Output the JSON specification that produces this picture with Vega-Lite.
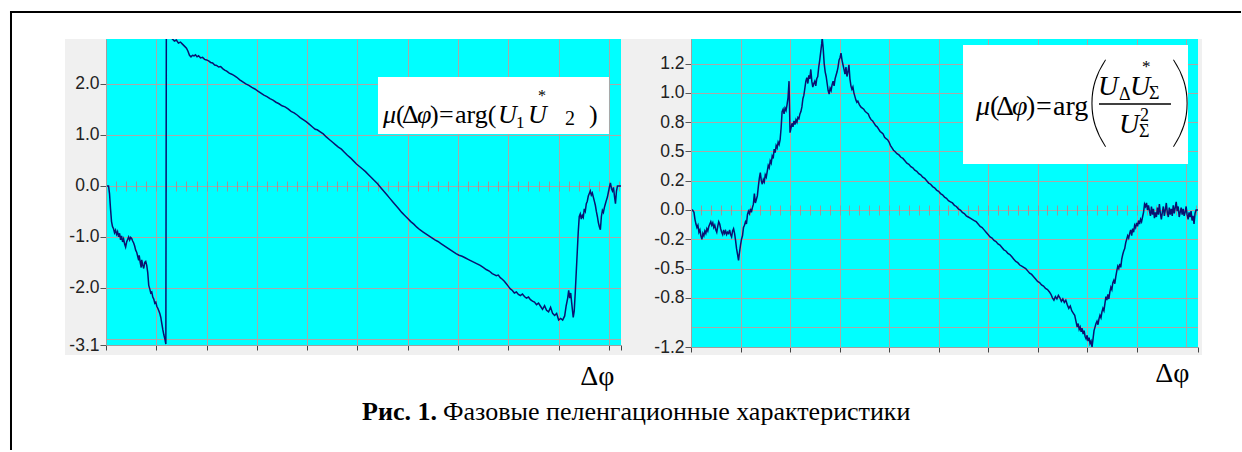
{
"$schema":"https://vega.github.io/schema/vega-lite/v6.json",
"background":"white",
"padding":{"left":8,"top":11,"right":0,"bottom":0},
"bounds":"flush",
"spacing":70,
"config":{"view":{"fill":"#00ffff","stroke":null}},
"datasets":{
"left":[{"x":0,"y":0},{"x":5,"y":0},{"x":7,"y":-0.15},{"x":9,"y":-0.45},{"x":11,"y":-0.7},{"x":13,"y":-0.8},{"x":15,"y":-0.84},{"x":17,"y":-0.92},{"x":19,"y":-0.87},{"x":21,"y":-0.95},{"x":23,"y":-0.9},{"x":25,"y":-1.0},{"x":27,"y":-0.93},{"x":29,"y":-1.06},{"x":31,"y":-0.98},{"x":33,"y":-1.1},{"x":35,"y":-1.04},{"x":37,"y":-1.14},{"x":39,"y":-1.2},{"x":41,"y":-1.1},{"x":43,"y":-1.05},{"x":45,"y":-1.0},{"x":47,"y":-1.06},{"x":49,"y":-1.01},{"x":51,"y":-1.03},{"x":53,"y":-1.08},{"x":55,"y":-1.12},{"x":57,"y":-1.18},{"x":59,"y":-1.26},{"x":61,"y":-1.3},{"x":63,"y":-1.38},{"x":65,"y":-1.46},{"x":66,"y":-1.36},{"x":68,"y":-1.5},{"x":70,"y":-1.6},{"x":71,"y":-1.45},{"x":73,"y":-1.55},{"x":75,"y":-1.62},{"x":77,"y":-1.5},{"x":79,"y":-1.48},{"x":81,"y":-1.56},{"x":83,"y":-1.7},{"x":85,"y":-1.95},{"x":87,"y":-2.02},{"x":89,"y":-2.1},{"x":91,"y":-2.08},{"x":93,"y":-2.18},{"x":95,"y":-2.22},{"x":97,"y":-2.3},{"x":99,"y":-2.28},{"x":101,"y":-2.36},{"x":103,"y":-2.4},{"x":105,"y":-2.45},{"x":107,"y":-2.5},{"x":109,"y":-2.58},{"x":111,"y":-2.7},{"x":113,"y":-2.82},{"x":115,"y":-2.92},{"x":117,"y":-3.0},{"x":119,"y":-3.1},{"x":120,"y":3.12},{"x":124,"y":3.0},{"x":128,"y":2.92},{"x":132,"y":2.88},{"x":136,"y":2.84},{"x":140,"y":2.86},{"x":144,"y":2.8},{"x":148,"y":2.82},{"x":152,"y":2.78},{"x":156,"y":2.74},{"x":160,"y":2.7},{"x":163,"y":2.64},{"x":166,"y":2.56},{"x":169,"y":2.53},{"x":172,"y":2.56},{"x":175,"y":2.55},{"x":178,"y":2.57},{"x":181,"y":2.53},{"x":184,"y":2.55},{"x":188,"y":2.51},{"x":192,"y":2.52},{"x":196,"y":2.48},{"x":200,"y":2.47},{"x":204,"y":2.45},{"x":208,"y":2.42},{"x":212,"y":2.41},{"x":216,"y":2.37},{"x":220,"y":2.36},{"x":224,"y":2.33},{"x":228,"y":2.34},{"x":232,"y":2.3},{"x":236,"y":2.27},{"x":240,"y":2.25},{"x":245,"y":2.21},{"x":250,"y":2.19},{"x":255,"y":2.16},{"x":260,"y":2.13},{"x":266,"y":2.08},{"x":272,"y":2.04},{"x":278,"y":2.0},{"x":284,"y":1.97},{"x":290,"y":1.93},{"x":296,"y":1.9},{"x":302,"y":1.86},{"x":308,"y":1.82},{"x":314,"y":1.78},{"x":320,"y":1.75},{"x":326,"y":1.71},{"x":332,"y":1.68},{"x":338,"y":1.64},{"x":344,"y":1.61},{"x":350,"y":1.57},{"x":356,"y":1.55},{"x":362,"y":1.51},{"x":368,"y":1.46},{"x":374,"y":1.43},{"x":380,"y":1.39},{"x":386,"y":1.34},{"x":392,"y":1.3},{"x":398,"y":1.26},{"x":404,"y":1.21},{"x":410,"y":1.16},{"x":416,"y":1.11},{"x":420,"y":1.1},{"x":426,"y":1.06},{"x":432,"y":1.02},{"x":438,"y":0.96},{"x":444,"y":0.91},{"x":450,"y":0.86},{"x":456,"y":0.81},{"x":462,"y":0.76},{"x":468,"y":0.72},{"x":474,"y":0.66},{"x":480,"y":0.6},{"x":486,"y":0.55},{"x":492,"y":0.49},{"x":498,"y":0.43},{"x":504,"y":0.38},{"x":510,"y":0.33},{"x":516,"y":0.28},{"x":522,"y":0.22},{"x":528,"y":0.16},{"x":534,"y":0.1},{"x":540,"y":0.04},{"x":546,"y":-0.03},{"x":552,"y":-0.1},{"x":558,"y":-0.17},{"x":564,"y":-0.24},{"x":570,"y":-0.31},{"x":576,"y":-0.38},{"x":582,"y":-0.45},{"x":588,"y":-0.52},{"x":594,"y":-0.58},{"x":600,"y":-0.64},{"x":606,"y":-0.7},{"x":612,"y":-0.75},{"x":618,"y":-0.81},{"x":624,"y":-0.86},{"x":630,"y":-0.9},{"x":636,"y":-0.94},{"x":642,"y":-0.98},{"x":648,"y":-1.02},{"x":654,"y":-1.06},{"x":660,"y":-1.09},{"x":666,"y":-1.13},{"x":672,"y":-1.17},{"x":678,"y":-1.21},{"x":684,"y":-1.25},{"x":690,"y":-1.29},{"x":696,"y":-1.33},{"x":702,"y":-1.36},{"x":708,"y":-1.38},{"x":714,"y":-1.41},{"x":720,"y":-1.44},{"x":726,"y":-1.47},{"x":732,"y":-1.5},{"x":738,"y":-1.53},{"x":744,"y":-1.56},{"x":750,"y":-1.6},{"x":756,"y":-1.64},{"x":762,"y":-1.67},{"x":768,"y":-1.72},{"x":772,"y":-1.74},{"x":776,"y":-1.76},{"x":780,"y":-1.75},{"x":784,"y":-1.8},{"x":788,"y":-1.83},{"x":792,"y":-1.87},{"x":796,"y":-1.92},{"x":800,"y":-1.97},{"x":804,"y":-2.02},{"x":808,"y":-2.05},{"x":812,"y":-2.1},{"x":816,"y":-2.08},{"x":820,"y":-2.13},{"x":824,"y":-2.15},{"x":828,"y":-2.12},{"x":832,"y":-2.17},{"x":836,"y":-2.2},{"x":840,"y":-2.18},{"x":844,"y":-2.23},{"x":848,"y":-2.26},{"x":852,"y":-2.28},{"x":856,"y":-2.33},{"x":860,"y":-2.3},{"x":864,"y":-2.36},{"x":868,"y":-2.42},{"x":872,"y":-2.35},{"x":876,"y":-2.44},{"x":880,"y":-2.47},{"x":884,"y":-2.38},{"x":888,"y":-2.5},{"x":892,"y":-2.54},{"x":896,"y":-2.5},{"x":900,"y":-2.63},{"x":904,"y":-2.6},{"x":908,"y":-2.63},{"x":912,"y":-2.55},{"x":915,"y":-2.35},{"x":918,"y":-2.2},{"x":920,"y":-2.05},{"x":922,"y":-2.2},{"x":924,"y":-2.1},{"x":926,"y":-2.3},{"x":929,"y":-2.58},{"x":931,"y":-2.45},{"x":933,"y":-2.1},{"x":935,"y":-1.7},{"x":937,"y":-1.3},{"x":939,"y":-0.9},{"x":941,"y":-0.6},{"x":943,"y":-0.55},{"x":945,"y":-0.65},{"x":947,"y":-0.58},{"x":949,"y":-0.62},{"x":951,"y":-0.45},{"x":953,"y":-0.5},{"x":955,"y":-0.35},{"x":957,"y":-0.3},{"x":959,"y":-0.2},{"x":961,"y":-0.15},{"x":963,"y":-0.1},{"x":965,"y":-0.18},{"x":967,"y":-0.14},{"x":969,"y":-0.22},{"x":971,"y":-0.3},{"x":973,"y":-0.38},{"x":975,"y":-0.5},{"x":977,"y":-0.6},{"x":979,"y":-0.72},{"x":981,"y":-0.8},{"x":983,"y":-0.86},{"x":985,"y":-0.6},{"x":987,"y":-0.48},{"x":989,"y":-0.52},{"x":991,"y":-0.42},{"x":993,"y":-0.35},{"x":995,"y":-0.28},{"x":997,"y":-0.22},{"x":999,"y":-0.12},{"x":1001,"y":-0.02},{"x":1003,"y":0.06},{"x":1005,"y":-0.05},{"x":1007,"y":-0.1},{"x":1009,"y":-0.03},{"x":1011,"y":-0.2},{"x":1013,"y":-0.35},{"x":1015,"y":-0.1},{"x":1017,"y":0.0},{"x":1020,"y":0.0},{"x":1024,"y":0.0}],
"right":[{"x":0,"y":0},{"x":3,"y":0},{"x":6,"y":-0.02},{"x":8,"y":-0.08},{"x":10,"y":-0.12},{"x":12,"y":-0.15},{"x":14,"y":-0.13},{"x":16,"y":-0.19},{"x":18,"y":-0.17},{"x":20,"y":-0.22},{"x":22,"y":-0.25},{"x":24,"y":-0.2},{"x":26,"y":-0.22},{"x":28,"y":-0.18},{"x":30,"y":-0.2},{"x":32,"y":-0.16},{"x":34,"y":-0.18},{"x":36,"y":-0.14},{"x":38,"y":-0.12},{"x":40,"y":-0.1},{"x":42,"y":-0.13},{"x":44,"y":-0.11},{"x":46,"y":-0.15},{"x":48,"y":-0.13},{"x":50,"y":-0.17},{"x":52,"y":-0.19},{"x":54,"y":-0.14},{"x":56,"y":-0.1},{"x":58,"y":-0.12},{"x":60,"y":-0.16},{"x":62,"y":-0.19},{"x":64,"y":-0.21},{"x":66,"y":-0.17},{"x":68,"y":-0.2},{"x":70,"y":-0.18},{"x":72,"y":-0.21},{"x":74,"y":-0.19},{"x":76,"y":-0.2},{"x":78,"y":-0.17},{"x":80,"y":-0.21},{"x":82,"y":-0.23},{"x":84,"y":-0.18},{"x":86,"y":-0.16},{"x":88,"y":-0.2},{"x":90,"y":-0.26},{"x":92,"y":-0.33},{"x":94,"y":-0.38},{"x":96,"y":-0.43},{"x":98,"y":-0.36},{"x":100,"y":-0.3},{"x":102,"y":-0.25},{"x":104,"y":-0.22},{"x":106,"y":-0.15},{"x":108,"y":-0.13},{"x":110,"y":-0.1},{"x":112,"y":-0.12},{"x":114,"y":-0.04},{"x":116,"y":-0.01},{"x":118,"y":-0.03},{"x":120,"y":0.01},{"x":122,"y":-0.02},{"x":124,"y":0.02},{"x":126,"y":0.05},{"x":128,"y":0.14},{"x":130,"y":0.06},{"x":132,"y":0.09},{"x":134,"y":0.12},{"x":136,"y":0.2},{"x":138,"y":0.27},{"x":140,"y":0.32},{"x":142,"y":0.25},{"x":144,"y":0.22},{"x":146,"y":0.26},{"x":148,"y":0.24},{"x":150,"y":0.3},{"x":152,"y":0.28},{"x":154,"y":0.33},{"x":156,"y":0.38},{"x":158,"y":0.36},{"x":160,"y":0.42},{"x":162,"y":0.4},{"x":164,"y":0.46},{"x":166,"y":0.44},{"x":168,"y":0.52},{"x":170,"y":0.49},{"x":172,"y":0.55},{"x":174,"y":0.53},{"x":176,"y":0.58},{"x":178,"y":0.56},{"x":180,"y":0.6},{"x":182,"y":0.7},{"x":184,"y":0.84},{"x":186,"y":0.86},{"x":188,"y":0.82},{"x":190,"y":0.87},{"x":192,"y":0.85},{"x":194,"y":0.9},{"x":196,"y":0.96},{"x":198,"y":1.1},{"x":200,"y":0.66},{"x":202,"y":0.7},{"x":204,"y":0.74},{"x":206,"y":0.71},{"x":208,"y":0.76},{"x":210,"y":0.73},{"x":212,"y":0.77},{"x":214,"y":0.75},{"x":216,"y":0.79},{"x":218,"y":0.78},{"x":220,"y":0.82},{"x":222,"y":0.84},{"x":224,"y":0.88},{"x":226,"y":0.95},{"x":228,"y":0.98},{"x":230,"y":1.04},{"x":232,"y":1.1},{"x":234,"y":1.13},{"x":236,"y":1.08},{"x":238,"y":1.15},{"x":240,"y":1.12},{"x":242,"y":1.2},{"x":244,"y":1.1},{"x":246,"y":1.05},{"x":248,"y":1.08},{"x":250,"y":1.1},{"x":252,"y":1.06},{"x":254,"y":1.12},{"x":256,"y":1.14},{"x":258,"y":1.22},{"x":260,"y":1.28},{"x":262,"y":1.35},{"x":264,"y":1.42},{"x":265,"y":1.47},{"x":267,"y":1.38},{"x":269,"y":1.25},{"x":271,"y":1.18},{"x":273,"y":1.14},{"x":275,"y":1.08},{"x":277,"y":1.02},{"x":279,"y":0.99},{"x":281,"y":1.04},{"x":283,"y":1.02},{"x":285,"y":1.07},{"x":287,"y":1.1},{"x":289,"y":1.06},{"x":291,"y":1.12},{"x":293,"y":1.15},{"x":295,"y":1.18},{"x":297,"y":1.22},{"x":299,"y":1.28},{"x":301,"y":1.3},{"x":303,"y":1.34},{"x":305,"y":1.28},{"x":307,"y":1.24},{"x":309,"y":1.2},{"x":311,"y":1.16},{"x":313,"y":1.22},{"x":315,"y":1.14},{"x":317,"y":1.18},{"x":319,"y":1.24},{"x":321,"y":1.12},{"x":323,"y":1.06},{"x":325,"y":1.03},{"x":327,"y":1.05},{"x":329,"y":1.0},{"x":331,"y":0.97},{"x":333,"y":0.94},{"x":335,"y":0.92},{"x":337,"y":0.93},{"x":340,"y":0.9},{"x":343,"y":0.88},{"x":346,"y":0.87},{"x":349,"y":0.86},{"x":352,"y":0.84},{"x":355,"y":0.83},{"x":358,"y":0.82},{"x":361,"y":0.79},{"x":364,"y":0.77},{"x":367,"y":0.76},{"x":370,"y":0.74},{"x":373,"y":0.72},{"x":376,"y":0.71},{"x":379,"y":0.69},{"x":382,"y":0.67},{"x":385,"y":0.66},{"x":388,"y":0.65},{"x":391,"y":0.62},{"x":394,"y":0.61},{"x":397,"y":0.6},{"x":400,"y":0.58},{"x":403,"y":0.55},{"x":406,"y":0.53},{"x":409,"y":0.51},{"x":412,"y":0.5},{"x":416,"y":0.48},{"x":420,"y":0.47},{"x":424,"y":0.45},{"x":428,"y":0.44},{"x":432,"y":0.42},{"x":436,"y":0.4},{"x":440,"y":0.39},{"x":444,"y":0.37},{"x":448,"y":0.36},{"x":452,"y":0.34},{"x":456,"y":0.33},{"x":460,"y":0.31},{"x":464,"y":0.3},{"x":468,"y":0.28},{"x":472,"y":0.27},{"x":476,"y":0.25},{"x":480,"y":0.23},{"x":484,"y":0.22},{"x":488,"y":0.2},{"x":492,"y":0.19},{"x":496,"y":0.17},{"x":500,"y":0.16},{"x":504,"y":0.14},{"x":508,"y":0.13},{"x":512,"y":0.11},{"x":516,"y":0.1},{"x":520,"y":0.08},{"x":524,"y":0.07},{"x":528,"y":0.06},{"x":532,"y":0.04},{"x":536,"y":0.03},{"x":540,"y":0.01},{"x":544,"y":0.0},{"x":548,"y":-0.02},{"x":552,"y":-0.03},{"x":556,"y":-0.05},{"x":560,"y":-0.06},{"x":564,"y":-0.07},{"x":568,"y":-0.08},{"x":572,"y":-0.09},{"x":576,"y":-0.1},{"x":580,"y":-0.12},{"x":584,"y":-0.14},{"x":588,"y":-0.15},{"x":592,"y":-0.17},{"x":596,"y":-0.19},{"x":600,"y":-0.21},{"x":604,"y":-0.23},{"x":608,"y":-0.24},{"x":612,"y":-0.26},{"x":616,"y":-0.27},{"x":620,"y":-0.29},{"x":624,"y":-0.3},{"x":628,"y":-0.32},{"x":632,"y":-0.34},{"x":636,"y":-0.35},{"x":640,"y":-0.37},{"x":644,"y":-0.38},{"x":648,"y":-0.4},{"x":652,"y":-0.42},{"x":656,"y":-0.44},{"x":660,"y":-0.45},{"x":664,"y":-0.47},{"x":668,"y":-0.48},{"x":672,"y":-0.49},{"x":676,"y":-0.5},{"x":680,"y":-0.52},{"x":684,"y":-0.54},{"x":688,"y":-0.55},{"x":692,"y":-0.57},{"x":696,"y":-0.59},{"x":700,"y":-0.61},{"x":704,"y":-0.62},{"x":708,"y":-0.64},{"x":712,"y":-0.65},{"x":716,"y":-0.67},{"x":720,"y":-0.68},{"x":724,"y":-0.7},{"x":727,"y":-0.72},{"x":730,"y":-0.75},{"x":733,"y":-0.77},{"x":736,"y":-0.74},{"x":739,"y":-0.76},{"x":742,"y":-0.73},{"x":745,"y":-0.75},{"x":748,"y":-0.78},{"x":751,"y":-0.76},{"x":754,"y":-0.79},{"x":757,"y":-0.77},{"x":760,"y":-0.81},{"x":763,"y":-0.84},{"x":766,"y":-0.82},{"x":769,"y":-0.86},{"x":772,"y":-0.88},{"x":775,"y":-0.9},{"x":778,"y":-0.96},{"x":780,"y":-1.0},{"x":782,"y":-0.97},{"x":784,"y":-1.02},{"x":786,"y":-1.0},{"x":788,"y":-1.04},{"x":790,"y":-1.01},{"x":792,"y":-1.06},{"x":794,"y":-1.03},{"x":796,"y":-1.08},{"x":798,"y":-1.1},{"x":800,"y":-1.07},{"x":802,"y":-1.12},{"x":804,"y":-1.09},{"x":806,"y":-1.14},{"x":808,"y":-1.12},{"x":810,"y":-1.17},{"x":812,"y":-1.1},{"x":814,"y":-1.03},{"x":816,"y":-1.0},{"x":818,"y":-0.97},{"x":820,"y":-0.95},{"x":822,"y":-0.98},{"x":824,"y":-0.93},{"x":826,"y":-0.9},{"x":828,"y":-0.92},{"x":830,"y":-0.87},{"x":832,"y":-0.84},{"x":834,"y":-0.86},{"x":836,"y":-0.8},{"x":838,"y":-0.74},{"x":840,"y":-0.77},{"x":842,"y":-0.72},{"x":844,"y":-0.76},{"x":846,"y":-0.7},{"x":848,"y":-0.66},{"x":850,"y":-0.68},{"x":852,"y":-0.62},{"x":854,"y":-0.6},{"x":856,"y":-0.63},{"x":858,"y":-0.57},{"x":860,"y":-0.52},{"x":862,"y":-0.48},{"x":864,"y":-0.5},{"x":866,"y":-0.46},{"x":868,"y":-0.49},{"x":870,"y":-0.42},{"x":872,"y":-0.38},{"x":874,"y":-0.35},{"x":876,"y":-0.33},{"x":878,"y":-0.28},{"x":880,"y":-0.25},{"x":882,"y":-0.22},{"x":884,"y":-0.24},{"x":886,"y":-0.2},{"x":888,"y":-0.17},{"x":890,"y":-0.22},{"x":892,"y":-0.16},{"x":894,"y":-0.19},{"x":896,"y":-0.13},{"x":898,"y":-0.15},{"x":900,"y":-0.11},{"x":902,"y":-0.14},{"x":904,"y":-0.09},{"x":906,"y":-0.12},{"x":908,"y":-0.08},{"x":910,"y":-0.1},{"x":912,"y":-0.06},{"x":914,"y":-0.02},{"x":916,"y":0.05},{"x":918,"y":0.03},{"x":920,"y":0.06},{"x":922,"y":0.0},{"x":924,"y":0.04},{"x":926,"y":-0.01},{"x":928,"y":-0.05},{"x":930,"y":0.03},{"x":932,"y":-0.04},{"x":934,"y":0.01},{"x":936,"y":-0.07},{"x":938,"y":-0.02},{"x":940,"y":-0.06},{"x":942,"y":0.02},{"x":944,"y":-0.04},{"x":946,"y":0.05},{"x":948,"y":-0.03},{"x":950,"y":-0.08},{"x":952,"y":-0.02},{"x":954,"y":0.03},{"x":956,"y":-0.05},{"x":958,"y":0.0},{"x":960,"y":0.06},{"x":962,"y":-0.02},{"x":964,"y":-0.06},{"x":966,"y":0.02},{"x":968,"y":-0.04},{"x":970,"y":0.01},{"x":972,"y":-0.05},{"x":974,"y":0.04},{"x":976,"y":-0.03},{"x":978,"y":0.02},{"x":980,"y":0.07},{"x":982,"y":-0.01},{"x":984,"y":0.03},{"x":986,"y":-0.06},{"x":988,"y":-0.02},{"x":990,"y":0.02},{"x":992,"y":-0.04},{"x":994,"y":0.01},{"x":996,"y":-0.05},{"x":998,"y":-0.02},{"x":1000,"y":0.03},{"x":1002,"y":-0.04},{"x":1004,"y":-0.08},{"x":1006,"y":-0.02},{"x":1008,"y":-0.06},{"x":1010,"y":-0.01},{"x":1012,"y":-0.09},{"x":1014,"y":-0.05},{"x":1016,"y":-0.12},{"x":1018,"y":-0.03},{"x":1020,"y":0.0},{"x":1022,"y":0.0},{"x":1024,"y":0.0}]
},
"hconcat":[
{
"width":515,"height":306,
"resolve":{"axis":{"x":"independent","y":"independent"}},
"layer":[
{"data":{"values":[{}]},"mark":{"type":"rect","fill":"#f0f0f0"},
 "encoding":{
  "x":{"datum":-81.5,"axis":{"orient":"bottom","values":[0,100,200,300,400,500,600,700,800,900,1000,1024],"labels":false,"grid":false,"domain":true,"domainColor":"#a0a0a0","ticks":true,"tickSize":5,"tickColor":"#444444","title":"Δφ","titleFont":"Liberation Serif","titleFontSize":28,"titleFontWeight":"normal","titleColor":"#000000","titleX":508,"titleY":39,"titleAlign":"right","titleBaseline":"alphabetic","zindex":1}},
  "x2":{"datum":0},
  "y":{"datum":2.88,"axis":{"orient":"left","values":[-3.12,-2,-1,0,1,2],"labelExpr":"datum.value < -3.05 ? '-3.1' : (datum.value < 0 ? '-' : '') + format(abs(datum.value), '.1f')","labelFont":"Liberation Sans","labelFontSize":17.5,"labelColor":"#222222","labelPadding":1,"tickSize":6,"tickColor":"#555555","domain":true,"domainColor":"#a0a0a0","grid":false,"title":null,"zindex":1}},
  "y2":{"datum":-3.316}}},
{"data":{"values":[{}]},"mark":{"type":"rect","fill":"#f0f0f0"},
 "encoding":{
  "x":{"datum":-81.5,"axis":{"orient":"bottom","offset":-164,"values":[20,40,60,80,100,120,140,160,180,200,220,240,260,280,300,320,340,360,380,400,420,440,460,480,500,520,540,560,580,600,620,640,660,680,700,720,740,760,780,800,820,840,860,880,900,920,940,960,980,1000,1020],"labels":false,"grid":false,"domain":false,"ticks":true,"tickSize":10,"tickColor":"#999999","title":null,"zindex":0}},
  "x2":{"datum":1063.8},
  "y":{"datum":-3.12,"axis":null},
  "y2":{"datum":-3.316}}},
{"data":{"values":[{}]},"mark":{"type":"rect","fill":"#f0f0f0"},
 "encoding":{"x":{"datum":1024,"axis":null},"x2":{"datum":1063.8},"y":{"datum":2.88,"axis":null},"y2":{"datum":-3.316}}},
{"data":{"name":"left"},"mark":{"type":"line","clip":true,"color":"#0a1270","strokeWidth":1.5},
 "encoding":{
  "x":{"field":"x","type":"quantitative","scale":{"domain":[0,1024],"nice":false,"zero":false},"axis":{"orient":"bottom","values":[100,200,300,400,500,600,700,800,900,1000],"grid":true,"gridColor":"#a8a8a8","labels":false,"ticks":false,"domain":false,"title":null,"zindex":0}},
  "y":{"field":"y","type":"quantitative","scale":{"domain":[-3.12,2.88],"nice":false,"zero":false},"axis":{"orient":"left","values":[-3,-2,-1,0,1,2],"grid":true,"gridColor":"#a8a8a8","labels":false,"ticks":false,"domain":false,"title":null,"zindex":0}}}},
{"data":{"values":[{}]},"mark":{"type":"rect","fill":"#ffffff"},
 "encoding":{"x":{"datum":540.8,"axis":null},"x2":{"datum":1000.1},"y":{"datum":2.135,"axis":null},"y2":{"datum":1.017}}},
{"data":{"values":[{}]},"mark":{"type":"text","text":"μ","font":"Liberation Serif","fontSize":26,"fontStyle":"italic","align":"left","baseline":"alphabetic","color":"#000000","dx":0},"encoding":{"x":{"datum":550.8,"axis":null},"y":{"datum":1.233,"axis":null}}},
{"data":{"values":[{}]},"mark":{"type":"text","text":"(","font":"Liberation Serif","fontSize":26,"align":"left","baseline":"alphabetic","color":"#000000","dx":13},"encoding":{"x":{"datum":550.8,"axis":null},"y":{"datum":1.233,"axis":null}}},
{"data":{"values":[{}]},"mark":{"type":"text","text":"Δ","font":"Liberation Serif","fontSize":26,"align":"left","baseline":"alphabetic","color":"#000000","dx":19},"encoding":{"x":{"datum":550.8,"axis":null},"y":{"datum":1.233,"axis":null}}},
{"data":{"values":[{}]},"mark":{"type":"text","text":"φ","font":"Liberation Serif","fontSize":26,"fontStyle":"italic","align":"left","baseline":"alphabetic","color":"#000000","dx":34},"encoding":{"x":{"datum":550.8,"axis":null},"y":{"datum":1.233,"axis":null}}},
{"data":{"values":[{}]},"mark":{"type":"text","text":")","font":"Liberation Serif","fontSize":26,"align":"left","baseline":"alphabetic","color":"#000000","dx":47},"encoding":{"x":{"datum":550.8,"axis":null},"y":{"datum":1.233,"axis":null}}},
{"data":{"values":[{}]},"mark":{"type":"text","text":"=","font":"Liberation Serif","fontSize":26,"align":"left","baseline":"alphabetic","color":"#000000","dx":56},"encoding":{"x":{"datum":550.8,"axis":null},"y":{"datum":1.233,"axis":null}}},
{"data":{"values":[{}]},"mark":{"type":"text","text":"arg(","font":"Liberation Serif","fontSize":26,"align":"left","baseline":"alphabetic","color":"#000000","dx":72},"encoding":{"x":{"datum":550.8,"axis":null},"y":{"datum":1.233,"axis":null}}},
{"data":{"values":[{}]},"mark":{"type":"text","text":"U","font":"Liberation Serif","fontSize":26,"fontStyle":"italic","align":"left","baseline":"alphabetic","color":"#000000","dx":115},"encoding":{"x":{"datum":550.8,"axis":null},"y":{"datum":1.233,"axis":null}}},
{"data":{"values":[{}]},"mark":{"type":"text","text":"1","font":"Liberation Serif","fontSize":17,"align":"left","baseline":"alphabetic","color":"#000000","dx":133,"dy":5},"encoding":{"x":{"datum":550.8,"axis":null},"y":{"datum":1.233,"axis":null}}},
{"data":{"values":[{}]},"mark":{"type":"text","text":"U","font":"Liberation Serif","fontSize":26,"fontStyle":"italic","align":"left","baseline":"alphabetic","color":"#000000","dx":145},"encoding":{"x":{"datum":550.8,"axis":null},"y":{"datum":1.233,"axis":null}}},
{"data":{"values":[{}]},"mark":{"type":"text","text":"*","font":"Liberation Serif","fontSize":16,"align":"left","baseline":"alphabetic","color":"#000000","dx":155,"dy":-22},"encoding":{"x":{"datum":550.8,"axis":null},"y":{"datum":1.233,"axis":null}}},
{"data":{"values":[{}]},"mark":{"type":"text","text":"2","font":"Liberation Serif","fontSize":20,"align":"left","baseline":"alphabetic","color":"#000000","dx":182,"dy":2},"encoding":{"x":{"datum":550.8,"axis":null},"y":{"datum":1.233,"axis":null}}},
{"data":{"values":[{}]},"mark":{"type":"text","text":")","font":"Liberation Serif","fontSize":26,"align":"left","baseline":"alphabetic","color":"#000000","dx":206},"encoding":{"x":{"datum":550.8,"axis":null},"y":{"datum":1.233,"axis":null}}},
{"data":{"values":[{}]},"mark":{"type":"rule","color":"#000000","strokeWidth":2},"encoding":{"x":{"datum":-190.9,"axis":null},"x2":{"datum":2256.8},"y":{"datum":3.409,"axis":null}}},
{"data":{"values":[{}]},"mark":{"type":"rule","color":"#000000","strokeWidth":2},"encoding":{"x":{"datum":-188.9,"axis":null},"y":{"datum":3.409,"axis":null},"y2":{"datum":-5.179}}},
{"data":{"values":[{}]},"mark":{"type":"text","text":"Рис. 1.","font":"Liberation Serif","fontSize":26,"fontWeight":"bold","align":"right","baseline":"alphabetic","color":"#000000"},"encoding":{"x":{"datum":658.1,"axis":null},"y":{"datum":-4.59,"axis":null}}},
{"data":{"values":[{}]},"mark":{"type":"text","text":"Фазовые пеленгационные характеристики","font":"Liberation Serif","fontSize":26,"align":"left","baseline":"alphabetic","color":"#000000","dx":6},"encoding":{"x":{"datum":658.1,"axis":null},"y":{"datum":-4.59,"axis":null}}}
]
},
{
"width":507,"height":308,
"resolve":{"axis":{"x":"independent","y":"independent"}},
"layer":[
{"data":{"values":[{}]},"mark":{"type":"rect","fill":"#f0f0f0"},
 "encoding":{
  "x":{"datum":-101,"axis":{"orient":"bottom","values":[0,100,200,300,400,500,600,700,800,900,1024],"labels":false,"grid":false,"domain":true,"domainColor":"#a0a0a0","ticks":true,"tickSize":5,"tickColor":"#444444","title":"Δφ","titleFont":"Liberation Serif","titleFontSize":28,"titleFontWeight":"normal","titleColor":"#000000","titleX":498,"titleY":34,"titleAlign":"right","titleBaseline":"alphabetic","zindex":1}},
  "x2":{"datum":0},
  "y":{"datum":1.46,"axis":{"orient":"left","values":[-1.17,-0.75,-0.5,-0.25,0,0.25,0.5,0.75,1,1.25],"labelExpr":"datum.value < -1.1 ? '-1.2' : datum.value == 1.25 ? '1.2' : datum.value == 0.75 ? '0.8' : datum.value == 0.25 ? '0.2' : datum.value == -0.25 ? '-0.2' : datum.value == -0.75 ? '-0.8' : (datum.value < 0 ? '-' : '') + format(abs(datum.value), '.1f')","labelFont":"Liberation Sans","labelFontSize":17.5,"labelColor":"#222222","labelPadding":1,"tickSize":6,"tickColor":"#555555","domain":true,"domainColor":"#a0a0a0","grid":false,"title":null,"zindex":1}},
  "y2":{"datum":-1.238}}},
{"data":{"values":[{}]},"mark":{"type":"rect","fill":"#f0f0f0"},
 "encoding":{
  "x":{"datum":-101,"axis":{"orient":"bottom","offset":-142,"values":[20,40,60,80,100,120,140,160,180,200,220,240,260,280,300,320,340,360,380,400,420,440,460,480,500,520,540,560,580,600,620,640,660,680,700,720,740,760,780,800,820,840,860,880,900,920,940,960,980,1000,1020],"labels":false,"grid":false,"domain":false,"ticks":true,"tickSize":10,"tickColor":"#999999","title":null,"zindex":0}},
  "x2":{"datum":1032.1},
  "y":{"datum":-1.17,"axis":null},
  "y2":{"datum":-1.238}}},
{"data":{"values":[{}]},"mark":{"type":"rect","fill":"#f0f0f0"},
 "encoding":{"x":{"datum":1024,"axis":null},"x2":{"datum":1032.1},"y":{"datum":1.46,"axis":null},"y2":{"datum":-1.238}}},
{"data":{"name":"right"},"mark":{"type":"line","clip":true,"color":"#0a1270","strokeWidth":1.5},
 "encoding":{
  "x":{"field":"x","type":"quantitative","scale":{"domain":[0,1024],"nice":false,"zero":false},"axis":{"orient":"bottom","values":[100,200,300,400,500,600,700,800,900,1000],"grid":true,"gridColor":"#a8a8a8","labels":false,"ticks":false,"domain":false,"title":null,"zindex":0}},
  "y":{"field":"y","type":"quantitative","scale":{"domain":[-1.17,1.46],"nice":false,"zero":false},"axis":{"orient":"left","values":[-1,-0.75,-0.5,-0.25,0,0.25,0.5,0.75,1,1.25],"grid":true,"gridColor":"#a8a8a8","labels":false,"ticks":false,"domain":false,"title":null,"zindex":0}}}},
{"data":{"values":[{}]},"mark":{"type":"rect","fill":"#ffffff"},
 "encoding":{"x":{"datum":549.4,"axis":null},"x2":{"datum":1003.8},"y":{"datum":1.409,"axis":null},"y2":{"datum":0.393}}},
{"data":{"values":[{}]},"mark":{"type":"text","text":"μ","font":"Liberation Serif","fontSize":28,"fontStyle":"italic","align":"left","baseline":"alphabetic","color":"#000000","dx":0},"encoding":{"x":{"datum":575.6,"axis":null},"y":{"datum":0.811,"axis":null}}},
{"data":{"values":[{}]},"mark":{"type":"text","text":"(","font":"Liberation Serif","fontSize":28,"align":"left","baseline":"alphabetic","color":"#000000","dx":14},"encoding":{"x":{"datum":575.6,"axis":null},"y":{"datum":0.811,"axis":null}}},
{"data":{"values":[{}]},"mark":{"type":"text","text":"Δ","font":"Liberation Serif","fontSize":28,"align":"left","baseline":"alphabetic","color":"#000000","dx":20},"encoding":{"x":{"datum":575.6,"axis":null},"y":{"datum":0.811,"axis":null}}},
{"data":{"values":[{}]},"mark":{"type":"text","text":"φ","font":"Liberation Serif","fontSize":28,"fontStyle":"italic","align":"left","baseline":"alphabetic","color":"#000000","dx":36},"encoding":{"x":{"datum":575.6,"axis":null},"y":{"datum":0.811,"axis":null}}},
{"data":{"values":[{}]},"mark":{"type":"text","text":")","font":"Liberation Serif","fontSize":28,"align":"left","baseline":"alphabetic","color":"#000000","dx":50},"encoding":{"x":{"datum":575.6,"axis":null},"y":{"datum":0.811,"axis":null}}},
{"data":{"values":[{}]},"mark":{"type":"text","text":"=","font":"Liberation Serif","fontSize":28,"align":"left","baseline":"alphabetic","color":"#000000","dx":60},"encoding":{"x":{"datum":575.6,"axis":null},"y":{"datum":0.811,"axis":null}}},
{"data":{"values":[{}]},"mark":{"type":"text","text":"arg","font":"Liberation Serif","fontSize":28,"align":"left","baseline":"alphabetic","color":"#000000","dx":77},"encoding":{"x":{"datum":575.6,"axis":null},"y":{"datum":0.811,"axis":null}}},
{"data":{"values":[{}]},"mark":{"type":"text","text":"(","font":"Lato","fontWeight":100,"fontSize":100,"align":"left","baseline":"middle","color":"#000000","dx":109,"dy":-10},"encoding":{"x":{"datum":575.6,"axis":null},"y":{"datum":0.811,"axis":null}}},
{"data":{"values":[{}]},"mark":{"type":"text","text":")","font":"Lato","fontWeight":100,"fontSize":100,"align":"left","baseline":"middle","color":"#000000","dx":193,"dy":-10},"encoding":{"x":{"datum":575.6,"axis":null},"y":{"datum":0.811,"axis":null}}},
{"data":{"values":[{}]},"mark":{"type":"text","text":"U","font":"Liberation Serif","fontSize":28,"fontStyle":"italic","align":"left","baseline":"alphabetic","color":"#000000","dx":122,"dy":-20},"encoding":{"x":{"datum":575.6,"axis":null},"y":{"datum":0.811,"axis":null}}},
{"data":{"values":[{}]},"mark":{"type":"text","text":"Δ","font":"Liberation Serif","fontSize":18,"align":"left","baseline":"alphabetic","color":"#000000","dx":143,"dy":-15},"encoding":{"x":{"datum":575.6,"axis":null},"y":{"datum":0.811,"axis":null}}},
{"data":{"values":[{}]},"mark":{"type":"text","text":"U","font":"Liberation Serif","fontSize":28,"fontStyle":"italic","align":"left","baseline":"alphabetic","color":"#000000","dx":154,"dy":-20},"encoding":{"x":{"datum":575.6,"axis":null},"y":{"datum":0.811,"axis":null}}},
{"data":{"values":[{}]},"mark":{"type":"text","text":"*","font":"Liberation Serif","fontSize":17,"align":"left","baseline":"alphabetic","color":"#000000","dx":166,"dy":-43},"encoding":{"x":{"datum":575.6,"axis":null},"y":{"datum":0.811,"axis":null}}},
{"data":{"values":[{}]},"mark":{"type":"text","text":"Σ","font":"Liberation Serif","fontSize":18,"align":"left","baseline":"alphabetic","color":"#000000","dx":173,"dy":-16},"encoding":{"x":{"datum":575.6,"axis":null},"y":{"datum":0.811,"axis":null}}},
{"data":{"values":[{}]},"mark":{"type":"rule","color":"#000000","strokeWidth":1.3},"encoding":{"x":{"datum":824,"axis":null},"x2":{"datum":969.4},"y":{"datum":0.905,"axis":null}}},
{"data":{"values":[{}]},"mark":{"type":"text","text":"U","font":"Liberation Serif","fontSize":28,"fontStyle":"italic","align":"left","baseline":"alphabetic","color":"#000000","dx":143,"dy":18},"encoding":{"x":{"datum":575.6,"axis":null},"y":{"datum":0.811,"axis":null}}},
{"data":{"values":[{}]},"mark":{"type":"text","text":"2","font":"Liberation Serif","fontSize":18,"align":"left","baseline":"alphabetic","color":"#000000","dx":164,"dy":6},"encoding":{"x":{"datum":575.6,"axis":null},"y":{"datum":0.811,"axis":null}}},
{"data":{"values":[{}]},"mark":{"type":"text","text":"Σ","font":"Liberation Serif","fontSize":18,"align":"left","baseline":"alphabetic","color":"#000000","dx":163,"dy":22},"encoding":{"x":{"datum":575.6,"axis":null},"y":{"datum":0.811,"axis":null}}}
]
}
]
}
